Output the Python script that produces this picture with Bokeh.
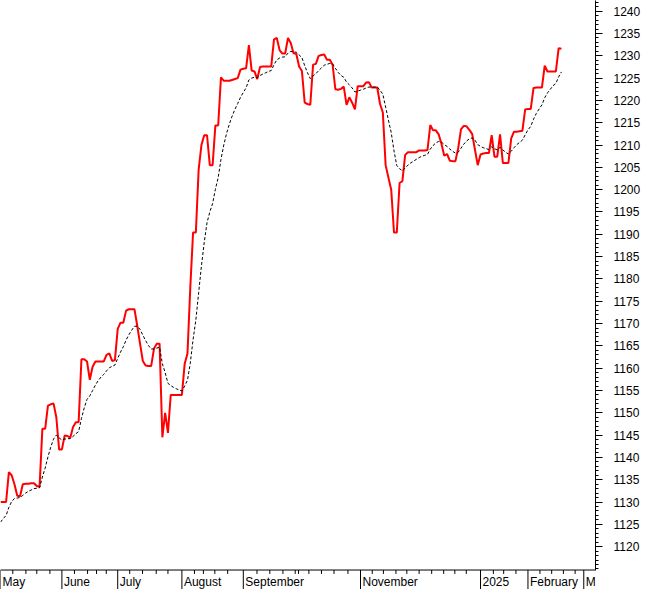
from bokeh.plotting import figure
from bokeh.models import FixedTicker, Range1d, Span, ColumnDataSource, BoxAnnotation
from bokeh.core.properties import value
from bokeh.embed import file_html
from bokeh.resources import INLINE

# closing values, one per trading day (May 2024 - Feb 2025)
price = [
    1130.0, 1130.0, 1130.0, 1136.7, 1136.0, 1134.0, 1131.4, 1131.3, 1134.0, 1134.1,
    1134.1, 1134.2, 1134.2, 1133.6, 1133.4, 1146.4, 1146.4, 1151.6, 1151.9, 1152.1,
    1149.0, 1141.8, 1141.8, 1144.9, 1144.8, 1144.4, 1146.8, 1147.9, 1147.9, 1162.0,
    1162.0, 1161.5, 1157.4, 1160.3, 1161.5, 1161.5, 1161.5, 1161.5, 1163.0, 1163.3,
    1161.6, 1161.8, 1168.8, 1170.2, 1170.2, 1172.9, 1173.2, 1173.2, 1173.2, 1169.5,
    1165.5, 1161.6, 1160.6, 1160.5, 1160.5, 1164.4, 1165.5, 1165.5, 1144.5, 1150.0,
    1145.5, 1154.0, 1154.0, 1154.0, 1154.0, 1154.0, 1161.0, 1163.3, 1178.0, 1190.4,
    1190.4, 1204.5, 1210.0, 1212.2, 1212.2, 1205.5, 1205.5, 1214.4, 1214.4, 1225.2,
    1224.4, 1224.4, 1224.4, 1224.6, 1224.8, 1225.0, 1226.9, 1227.1, 1227.2, 1232.4,
    1226.7, 1226.5, 1224.8, 1227.5, 1227.6, 1227.6, 1227.6, 1227.6, 1233.7, 1234.0,
    1231.3, 1230.5, 1230.5, 1234.0, 1232.9, 1230.6, 1230.4, 1227.6, 1226.6, 1219.5,
    1219.2, 1219.0, 1228.0, 1228.2, 1230.0, 1230.2, 1230.3, 1229.1, 1229.1, 1228.0,
    1222.5, 1222.4, 1222.6, 1223.1, 1219.0, 1220.7, 1219.5, 1218.0, 1223.2, 1223.2,
    1223.2, 1224.0, 1224.1, 1222.9, 1222.9, 1222.9, 1219.2, 1217.3, 1205.5, 1202.7,
    1200.0, 1190.4, 1190.4, 1201.5, 1201.9, 1207.8, 1208.4, 1208.4, 1208.4, 1208.4,
    1208.8, 1208.8, 1208.8, 1208.9, 1214.5, 1213.3, 1213.3, 1212.4, 1210.3, 1207.6,
    1208.0, 1206.5, 1206.4, 1206.4, 1209.3, 1213.5, 1214.3, 1214.2, 1213.4, 1212.5,
    1209.0, 1205.5, 1207.9, 1208.1, 1208.2, 1208.2, 1212.2, 1207.4, 1207.4, 1212.4,
    1206.0, 1206.0, 1206.0, 1211.5, 1213.0, 1213.0, 1213.1, 1213.2, 1218.0, 1218.1,
    1218.1, 1222.8, 1222.9, 1222.9, 1222.9, 1227.8, 1226.5, 1226.5, 1226.5, 1226.5,
    1231.7, 1231.6,
]

# dotted average line, one value per trading day
average = [
    1125.5, 1126.3, 1127.0, 1128.8, 1130.1, 1130.8, 1130.9, 1131.0, 1131.5, 1132.0,
    1132.4, 1132.7, 1133.0, 1133.1, 1133.2, 1135.6, 1137.6, 1140.1, 1142.3, 1144.1,
    1145.0, 1144.4, 1143.9, 1144.1, 1144.2, 1144.2, 1144.7, 1145.3, 1145.8, 1148.7,
    1151.1, 1153.0, 1153.8, 1155.0, 1156.2, 1157.2, 1158.0, 1158.6, 1159.4, 1160.1,
    1160.4, 1160.7, 1162.2, 1163.6, 1164.8, 1166.3, 1167.5, 1168.5, 1169.4, 1169.4,
    1168.7, 1167.4, 1166.2, 1165.1, 1164.3, 1164.3, 1164.5, 1164.7, 1161.0, 1159.0,
    1156.6, 1156.1, 1155.7, 1155.4, 1155.1, 1154.9, 1156.0, 1157.3, 1161.1, 1166.4,
    1170.8, 1176.9, 1182.9, 1188.2, 1192.6, 1195.0, 1196.9, 1200.1, 1202.7, 1206.8,
    1210.0, 1212.6, 1214.7, 1216.5, 1218.0, 1219.3, 1220.7, 1221.8, 1222.8, 1224.6,
    1225.0, 1225.2, 1225.1, 1225.6, 1225.9, 1226.2, 1226.5, 1226.7, 1228.0, 1229.1,
    1229.5, 1229.7, 1229.8, 1230.6, 1231.0, 1230.9, 1230.8, 1230.2, 1229.6, 1227.8,
    1226.2, 1224.9, 1225.5, 1226.0, 1226.7, 1227.3, 1227.9, 1228.1, 1228.3, 1228.2,
    1227.2, 1226.3, 1225.6, 1225.2, 1224.1, 1223.5, 1222.8, 1221.9, 1222.1, 1222.3,
    1222.5, 1222.8, 1223.0, 1223.0, 1223.0, 1223.0, 1222.3, 1221.4, 1218.5, 1215.6,
    1212.8, 1208.7, 1205.4, 1204.7, 1204.2, 1204.9, 1205.5, 1206.0, 1206.4, 1206.8,
    1207.2, 1207.5, 1207.7, 1207.9, 1209.1, 1209.9, 1210.5, 1210.8, 1210.7, 1210.1,
    1209.7, 1209.1, 1208.6, 1208.2, 1208.4, 1209.3, 1210.2, 1210.9, 1211.4, 1211.6,
    1211.1, 1210.1, 1209.7, 1209.4, 1209.2, 1209.0, 1209.6, 1209.2, 1208.9, 1209.5,
    1208.9, 1208.4, 1208.0, 1208.6, 1209.4, 1210.1, 1210.6, 1211.1, 1212.3, 1213.4,
    1214.2, 1215.8, 1217.1, 1218.1, 1219.0, 1220.6, 1221.7, 1222.5, 1223.3, 1223.8,
    1225.3, 1226.4,
]

day = list(range(len(price)))

# month labels on the time axis and the trading-day index where each starts
month_labels = ["May", "June", "July", "August", "September", "November", "2025", "February", "M"]
month_start = [0, 22, 42, 65, 87, 129, 172, 189, 209]
# small ticks between the month marks (trading-day index)
minor_ticks = [4.4, 9.1, 13.0, 17.7, 26.5, 31.2, 34.4, 37.9, 46.3, 50.9, 55.8, 60.0,
               69.5, 72.7, 76.8, 81.4, 91.9, 96.5, 101.2, 105.6, 106.8, 110.5, 115.0,
               119.5, 124.5, 133.2, 137.2, 141.7, 145.6, 150.0, 154.5, 158.8, 162.8,
               166.9, 176.6, 180.3, 184.7, 193.3, 197.5, 201.7, 205.9]
price_ticks = list(range(1120, 1241, 5))
price_minor = list(range(1115, 1243))

FONT = "Liberation Sans"

# vertical layout (value units): plot area top, time-axis line, bottom of label band
Y_TOP = 1242.4
Y_AXIS = 1114.76
PX_PER_UNIT = 4.5833           # in the reference's pixels
Y_BOTTOM = Y_AXIS - 20 / PX_PER_UNIT
Y_LABEL = Y_AXIS - 12 / PX_PER_UNIT
Y_MINOR = Y_AXIS - 4 / PX_PER_UNIT
X_END = 213.2
W, H, RIGHT = 646, 589, 51

p = figure(width=W, height=H, output_backend="svg", toolbar_location=None,
           x_range=Range1d(0, X_END), y_range=Range1d(Y_BOTTOM, Y_TOP),
           y_axis_location="right", x_axis_location=None,
           min_border_left=0, min_border_top=0, min_border_right=RIGHT, min_border_bottom=0)
p.outline_line_color = None
p.grid.visible = False
p.background_fill_color = "white"
p.border_fill_color = "white"

p.line(day, price, line_color="#ff0000", line_width=2)
p.line(day, average, line_color="black", line_width=1, line_dash="3 2")

# time axis drawn inside the plot area
p.add_layout(Span(location=Y_AXIS, dimension="width", line_color="black", line_width=1))
n = len(month_start)
p.segment(x0=month_start, y0=[Y_AXIS] * n, x1=month_start, y1=[Y_BOTTOM] * n,
          line_color="black", line_width=1)
m = len(minor_ticks)
p.segment(x0=minor_ticks, y0=[Y_AXIS] * m, x1=minor_ticks, y1=[Y_MINOR] * m,
          line_color="black", line_width=1)
lab_src = ColumnDataSource(dict(x=month_start, y=[Y_LABEL] * n, t=month_labels))
p.text(x="x", y="y", text="t", source=lab_src, x_offset=2,
       text_font=value(FONT), text_font_size=value("12px"), text_color="black",
       text_align="left", text_baseline="middle")

# light grey corner below the value axis
corner_w = RIGHT * X_END / (W - RIGHT)
p.add_layout(BoxAnnotation(left=X_END, right=X_END + corner_w, bottom=Y_BOTTOM, top=Y_AXIS,
                           fill_color="#f0f0f0", fill_alpha=1.0, line_color=None, level="overlay"))

ya = p.yaxis[0]
ya.ticker = FixedTicker(ticks=price_ticks, minor_ticks=price_minor)
ya.bounds = (Y_AXIS, Y_TOP)
ya.axis_line_color = "black"
ya.major_tick_line_color = "black"
ya.minor_tick_line_color = "black"
ya.major_tick_in = 0
ya.major_tick_out = 7
ya.minor_tick_in = 0
ya.minor_tick_out = 3
ya.major_label_text_font = FONT
ya.major_label_text_font_size = "12px"
ya.major_label_text_color = "black"
ya.major_label_standoff = 11

open("out.html", "w").write(file_html(p, INLINE))
